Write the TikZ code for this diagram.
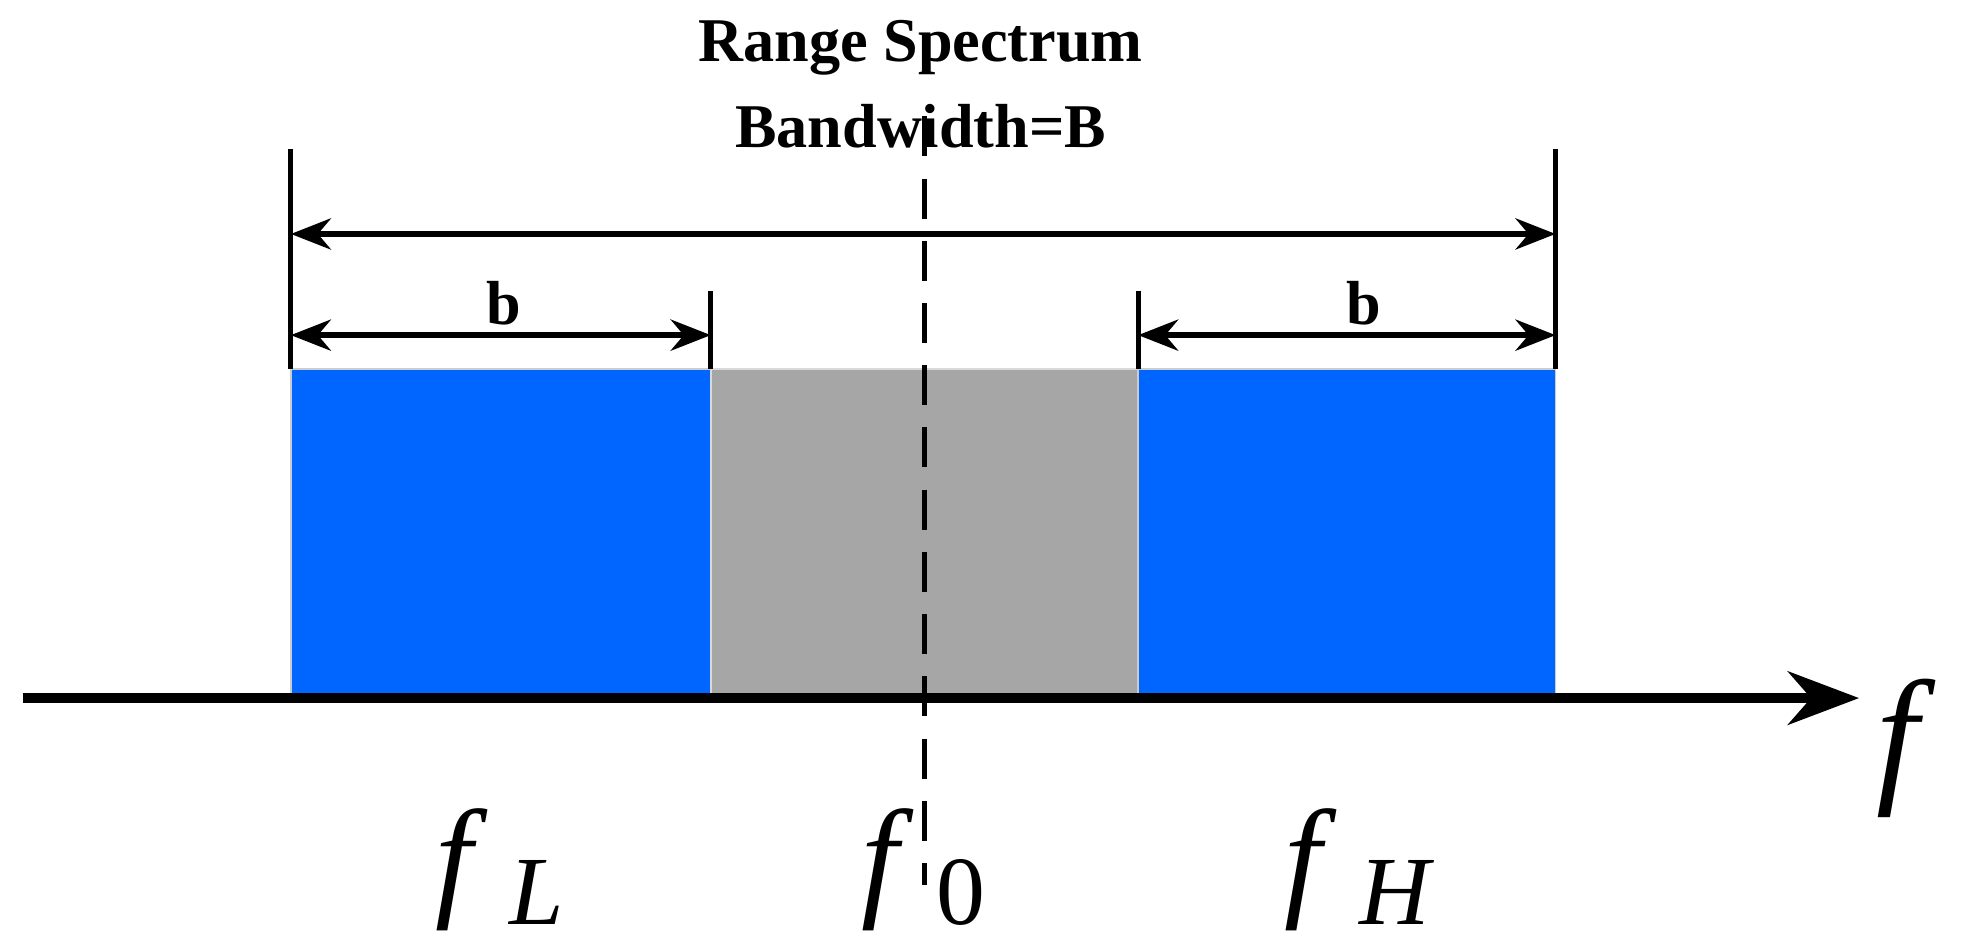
\documentclass[tikz,border=0pt]{standalone}
\usepackage{fontspec}
\setmainfont{Liberation Serif}
\usetikzlibrary{arrows.meta}
\definecolor{bl}{HTML}{0066FF}
\definecolor{gr}{HTML}{A6A6A6}
\begin{document}
\begin{tikzpicture}[x=0.1mm,y=-0.1mm,
  dim/.style={line width=1.3pt,{Stealth[length=9pt,width=7pt]}-{Stealth[length=9pt,width=7pt]}},
  tick/.style={line width=1.1pt},
  big/.style={font=\fontsize{30}{30}\selectfont},
  lab/.style={font=\bfseries\fontsize{14}{14}\selectfont}]
\useasboundingbox (0,0) rectangle (1568,750);
\fill[bl,draw=gray!40] (230,292) rectangle (562,552);
\fill[gr,draw=gray!30] (562,292) rectangle (900,552);
\fill[bl,draw=gray!40] (900,292) rectangle (1230,552);
\draw[line width=2.2pt,-{Stealth[length=16pt,width=12pt]}] (18,552) -- (1470,552) coordinate (axe);
\node[big,font=\itshape\fontsize{34}{34}\selectfont] (f) at (1500,592) {f};
\coordinate (t1a) at (230,118); \coordinate (t1b) at (230,292);
\coordinate (t2a) at (1230,118); \coordinate (t2b) at (1230,292);
\coordinate (t3a) at (562,230); \coordinate (t3b) at (562,292);
\coordinate (t4a) at (900,230); \coordinate (t4b) at (900,292);
\draw[tick] (t1a)--(t1b); \draw[tick] (t2a)--(t2b);
\draw[tick] (t3a)--(t3b); \draw[tick] (t4a)--(t4b);
\coordinate (a1) at (230,185); \coordinate (a2) at (1230,185);
\draw[dim] (a1)--(a2);
\coordinate (b1) at (230,265); \coordinate (b2) at (562,265);
\coordinate (b3) at (900,265); \coordinate (b4) at (1230,265);
\draw[dim] (b1)--(b2); \draw[dim] (b3)--(b4);
\node[lab] (lb1) at (398,240) {b};
\node[lab] (lb2) at (1078,240) {b};
\coordinate (d1) at (731,92); \coordinate (d2) at (731,700);
\draw[dashed,line width=1.1pt,dash pattern=on 9pt off 5pt] (d1)--(d2);
\node[lab] (t1) at (728,38) {Range Spectrum};
\node[lab] (t2) at (728,100) {Bandwidth=B};
\node[big] (fl) at (395,688) {\textit{f}\,\raisebox{-0.35ex}{\fontsize{22}{22}\selectfont\textit{L}}};
\node[big] (f0) at (730,688) {\textit{f}\,\raisebox{-0.35ex}{\fontsize{22}{22}\selectfont 0}};
\node[big] (fh) at (1075,688) {\textit{f}\,\raisebox{-0.35ex}{\fontsize{22}{22}\selectfont\textit{H}}};
\end{tikzpicture}
\end{document}
